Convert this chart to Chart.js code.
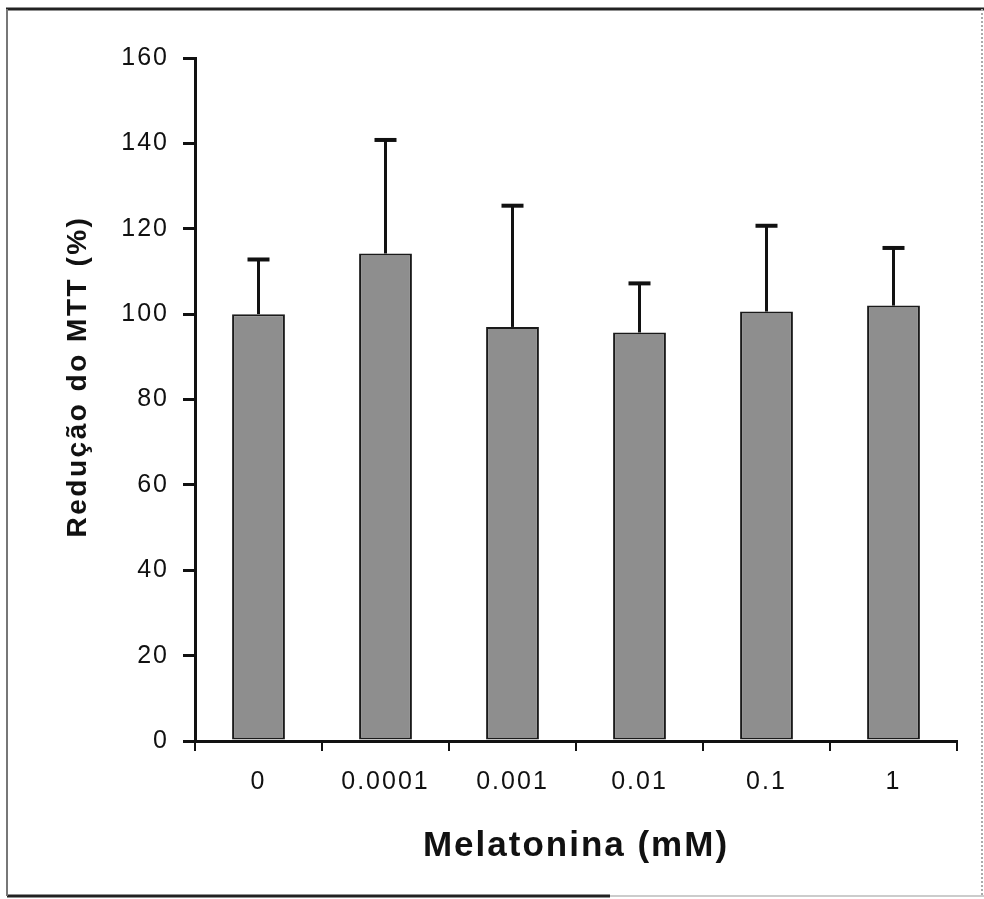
<!DOCTYPE html>
<html lang="pt">
<head>
<meta charset="UTF-8">
<title>Redução do MTT - Melatonina</title>
<style>
  html, body { margin: 0; padding: 0; background: #fff; }
  #wrap { position: relative; width: 984px; height: 899px; }
</style>
</head>
<body>
<div id="wrap"><canvas id="myChart" width="984" height="899"></canvas></div>

<script src="https://cdn.jsdelivr.net/npm/chart.js"></script>
<script>
// valores
var concentrations = ['0', '0.0001', '0.001', '0.01', '0.1', '1'];
var mttMeans = [100, 114.2, 97.0, 95.7, 100.6, 102.0];
var mttSD = [12.8, 26.6, 28.4, 11.5, 20.1, 13.5];
var yTicks = [0, 20, 40, 60, 80, 100, 120, 140, 160];

var fontFamily = "'Liberation Sans', Arial, Helvetica, sans-serif";

// slightly spaced letters, like the scanned figure
var spacing = {
    id: 'spacing',
    beforeDraw: function(chart) {
        chart.ctx.letterSpacing = '2px';
    }
};

// only the upper half of the error bar is drawn
var errorBars = {
    id: 'errorBars',
    afterDatasetsDraw: function(chart) {
        var ctx = chart.ctx;
        var meta = chart.getDatasetMeta(0);
        var y = chart.scales.y;
        ctx.save();
        ctx.strokeStyle = '#111';
        for (var i = 0; i < meta.data.length; i++) {
            var bar = meta.data[i];
            var top = y.getPixelForValue(mttMeans[i] + mttSD[i]);
            ctx.lineWidth = 3;
            ctx.beginPath();
            ctx.moveTo(bar.x, bar.y);
            ctx.lineTo(bar.x, top);
            ctx.stroke();
            ctx.lineWidth = 4;
            ctx.beginPath();
            ctx.moveTo(bar.x - 11, top);
            ctx.lineTo(bar.x + 11, top);
            ctx.stroke();
        }
        ctx.restore();
    }
};

// y title sits a bit above the middle of the axis in the original
var yTitle = {
    id: 'yTitle',
    afterDraw: function(chart) {
        var ctx = chart.ctx;
        var area = chart.chartArea;
        ctx.save();
        ctx.letterSpacing = '2.5px';
        ctx.translate(area.left - 109, (area.top + area.bottom) / 2 - 23);
        ctx.rotate(-Math.PI / 2);
        ctx.font = 'bold 28px ' + fontFamily;
        ctx.fillStyle = '#111';
        ctx.textAlign = 'center';
        ctx.textBaseline = 'alphabetic';
        ctx.fillText('Redução do MTT (%)', 0, 0);
        ctx.restore();
    }
};

// the frame around the scanned figure
var frame = {
    id: 'frame',
    afterDraw: function(chart) {
        var ctx = chart.ctx;
        ctx.save();
        ctx.strokeStyle = '#222';
        ctx.lineWidth = 3;
        ctx.beginPath();
        ctx.moveTo(6, 9);
        ctx.lineTo(984, 9);
        ctx.stroke();
        ctx.beginPath();
        ctx.moveTo(7, 896);
        ctx.lineTo(610, 896);
        ctx.stroke();
        ctx.strokeStyle = '#999';
        ctx.lineWidth = 1;
        ctx.beginPath();
        ctx.moveTo(610, 896);
        ctx.lineTo(984, 896);
        ctx.stroke();
        ctx.strokeStyle = '#777';
        ctx.lineWidth = 2;
        ctx.beginPath();
        ctx.moveTo(7, 9);
        ctx.lineTo(7, 896);
        ctx.stroke();
        ctx.setLineDash([2, 2]);
        ctx.strokeStyle = '#aaa';
        ctx.beginPath();
        ctx.moveTo(982, 9);
        ctx.lineTo(982, 896);
        ctx.stroke();
        ctx.restore();
    }
};

function createChart() {
    var ctx = document.getElementById('myChart').getContext('2d');
    return new Chart(ctx, {
        type: 'bar',
        data: {
            labels: concentrations,
            datasets: [{
                data: mttMeans,
                backgroundColor: '#8e8e8e',
                borderColor: '#1a1a1a',
                borderWidth: 2,
                borderSkipped: false,
                categoryPercentage: 1,
                barPercentage: 0.416
            }]
        },
        options: {
            responsive: false,
            animation: false,
            layout: { padding: { left: 0, top: 58, right: 27, bottom: 0 } },
            plugins: {
                legend: { display: false },
                tooltip: { enabled: false }
            },
            scales: {
                x: {
                    afterFit: function(scale) { scale.height = 158; },
                    border: { display: true, color: '#111', width: 3 },
                    grid: { drawOnChartArea: false, color: '#111', lineWidth: 2, tickLength: 10 },
                    ticks: {
                        color: '#111',
                        padding: 16,
                        font: { family: fontFamily, size: 25 }
                    },
                    title: {
                        display: true,
                        text: 'Melatonina (mM)',
                        color: '#111',
                        font: { family: fontFamily, size: 35, weight: 'bold' },
                        padding: { top: 0, bottom: 32 }
                    }
                },
                y: {
                    min: yTicks[0],
                    max: yTicks[yTicks.length - 1],
                    afterFit: function(scale) { scale.width = 195; },
                    border: { display: true, color: '#111', width: 3 },
                    grid: { drawOnChartArea: false, color: '#111', lineWidth: 3, tickLength: 12 },
                    ticks: {
                        stepSize: yTicks[1] - yTicks[0],
                        color: '#111',
                        padding: 14,
                        font: { family: fontFamily, size: 25 }
                    }
                }
            }
        },
        plugins: [spacing, errorBars, yTitle, frame]
    });
}

createChart();
</script>
</body>
</html>
